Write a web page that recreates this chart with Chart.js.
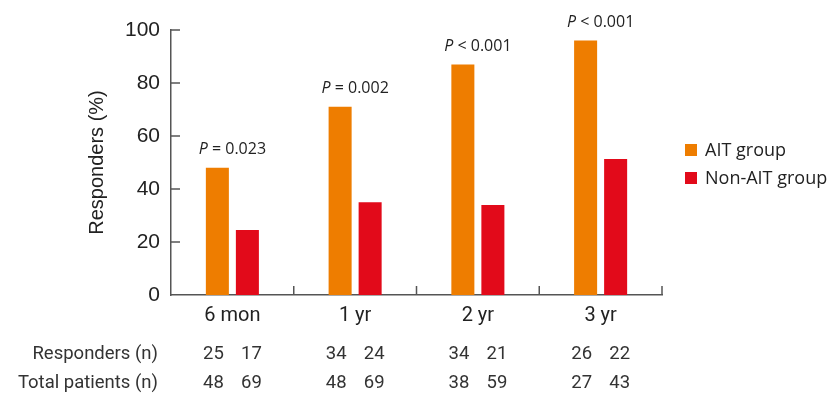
<!DOCTYPE html>
<html>
<head>
<meta charset="utf-8">
<script src="https://cdn.jsdelivr.net/npm/chart.js@4.4.1/dist/chart.umd.min.js"></script>
<style>
  html, body { margin: 0; padding: 0; background: #ffffff; }
  #wrap { width: 830px; height: 393px; }
</style>
</head>
<body>
<div id="wrap"><canvas id="chart" width="830" height="393"></canvas></div>
<script>
// Follow-up time points
const categories = ['6 mon', '1 yr', '2 yr', '3 yr'];

// Share of responders (%) per group
const aitPercent = [48, 71, 87, 96];
const nonAitPercent = [24.5, 35, 34, 51.3];

// Between-group comparison at each time point
const pValueText = ['= 0.023', '= 0.002', '< 0.001', '< 0.001'];

// Counts listed under the axis
const aitResponders = [25, 34, 34, 26];
const nonAitResponders = [17, 24, 21, 22];
const aitTotal = [48, 48, 38, 27];
const nonAitTotal = [69, 69, 59, 43];

const seriesNames = ['AIT group', 'Non-AIT group'];
const seriesColors = ['#EE7D00', '#E20A1A'];
const axisColor = '#555555';
const textColor = '#222222';

const extras = {
  id: 'extras',
  afterDatasetsDraw(chart) {
    const ctx = chart.ctx;
    const xs = chart.scales.x;
    const ys = chart.scales.y;
    const area = chart.chartArea;
    const catW = (area.right - area.left) / categories.length;

    ctx.save();
    // inward tick marks
    ctx.strokeStyle = axisColor;
    ctx.lineWidth = 1.5;
    ctx.beginPath();
    for (let v = 20; v <= 100; v += 20) {
      const y = ys.getPixelForValue(v);
      ctx.moveTo(area.left, y);
      ctx.lineTo(area.left + 9, y);
    }
    for (let i = 1; i <= categories.length; i++) {
      const x = area.left + i * catW;
      ctx.moveTo(x, area.bottom);
      ctx.lineTo(x, area.bottom - 9);
    }
    ctx.stroke();

    // P values above each pair
    ctx.fillStyle = textColor;
    ctx.textBaseline = 'middle';
    categories.forEach((c, i) => {
      const cx = xs.getPixelForValue(i);
      const y = ys.getPixelForValue(aitPercent[i]) - 18;
      ctx.font = 'italic 16px "Open Sans"';
      const pW = ctx.measureText('P').width;
      ctx.font = '16px "Open Sans"';
      const rest = ' ' + pValueText[i];
      const rW = ctx.measureText(rest).width;
      const x0 = cx - (pW + rW) / 2;
      ctx.textAlign = 'left';
      ctx.font = 'italic 16px "Open Sans"';
      ctx.fillText('P', x0, y);
      ctx.font = '16px "Open Sans"';
      ctx.fillText(rest, x0 + pW, y);
    });

    // legend
    ctx.font = '18px "Open Sans"';
    ctx.textAlign = 'left';
    seriesNames.forEach((name, k) => {
      const y = 150 + k * 28;
      ctx.fillStyle = seriesColors[k];
      ctx.fillRect(685, y - 6, 12, 12);
      ctx.fillStyle = textColor;
      ctx.fillText(name, 705, y + 1);
    });

    // count table
    ctx.font = '18.5px Roboto';
    ctx.fillStyle = '#333333';
    ctx.textAlign = 'right';
    ctx.fillText('Responders (n)', 158, 354);
    ctx.fillText('Total patients (n)', 158, 383);
    ctx.textAlign = 'center';
    categories.forEach((c, i) => {
      const cx = xs.getPixelForValue(i);
      ctx.fillText(String(aitResponders[i]), cx - 19, 354);
      ctx.fillText(String(nonAitResponders[i]), cx + 19, 354);
      ctx.fillText(String(aitTotal[i]), cx - 19, 383);
      ctx.fillText(String(nonAitTotal[i]), cx + 19, 383);
    });
    ctx.restore();
  }
};

new Chart(document.getElementById('chart'), {
  type: 'bar',
  data: {
    labels: categories,
    datasets: [
      { label: seriesNames[0], data: aitPercent, backgroundColor: seriesColors[0] },
      { label: seriesNames[1], data: nonAitPercent, backgroundColor: seriesColors[1] }
    ]
  },
  options: {
    responsive: false,
    animation: false,
    devicePixelRatio: 1,
    categoryPercentage: 0.489,
    barPercentage: 0.767,
    layout: { padding: { top: 30, right: 168, bottom: 0, left: 0 } },
    plugins: {
      legend: { display: false },
      tooltip: { enabled: false }
    },
    scales: {
      x: {
        offset: true,
        grid: { display: false, drawTicks: false },
        border: { display: true, color: axisColor, width: 1.5 },
        ticks: { color: textColor, font: { family: 'Roboto', size: 20 }, padding: 9 },
        afterFit(s) { s.height = 98; }
      },
      y: {
        min: 0,
        max: 100,
        grid: { display: false, drawTicks: false },
        border: { display: true, color: axisColor, width: 1.5 },
        ticks: { stepSize: 20, color: textColor, font: { family: '"Liberation Sans"', size: 21 }, padding: 11 },
        title: {
          display: true,
          text: 'Responders (%)',
          color: textColor,
          font: { family: '"Liberation Sans"', size: 20 },
          padding: { top: 85, bottom: 0 }
        },
        afterFit(s) { s.width = 171; }
      }
    }
  },
  plugins: [extras]
});
</script>
</body>
</html>
